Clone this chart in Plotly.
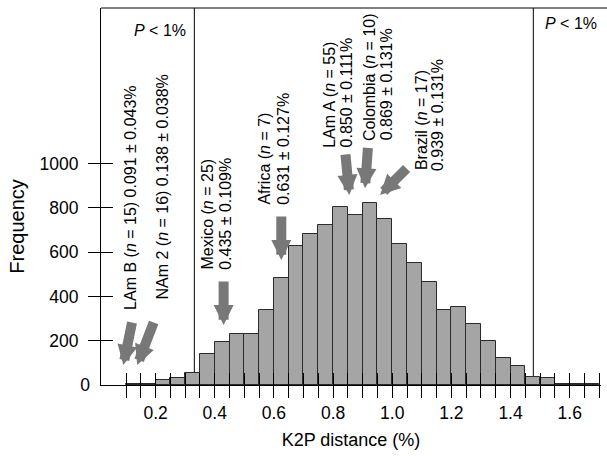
import plotly.graph_objects as go

# ---- data ----
bin_left = [0.10, 0.15, 0.20, 0.25, 0.30, 0.35, 0.40, 0.45, 0.50, 0.55,
            0.60, 0.65, 0.70, 0.75, 0.80, 0.85, 0.90, 0.95, 1.00, 1.05,
            1.10, 1.15, 1.20, 1.25, 1.30, 1.35, 1.40, 1.45, 1.50, 1.55,
            1.60, 1.65]
counts = [6, 6, 22, 31, 52, 139, 193, 230, 230, 337,
          484, 628, 680, 721, 804, 766, 820, 751, 637, 552,
          466, 337, 353, 277, 200, 123, 84, 38, 30, 6,
          6, 6]
bin_width = 0.05

group_names = ["LAm B", "NAm 2", "Mexico", "Africa", "LAm A", "Colombia", "Brazil"]
group_n = [15, 16, 25, 7, 55, 10, 17]
group_mean = [0.091, 0.138, 0.435, 0.631, 0.850, 0.869, 0.939]
group_sd = [0.043, 0.038, 0.109, 0.127, 0.111, 0.131, 0.131]
arrow_tip_x = [0.091, 0.138, 0.430, 0.625, 0.855, 0.908, 0.959]
arrow_tip_y = [90, 90, 271, 564, 858, 888, 858]

p_thresholds = [0.331, 1.477]
p_label = "<i>P</i> &lt; 1%"

x_tick_vals = [0.10, 0.15, 0.20, 0.25, 0.30, 0.35, 0.40, 0.45, 0.50, 0.55,
               0.60, 0.65, 0.70, 0.75, 0.80, 0.85, 0.90, 0.95, 1.00, 1.05,
               1.10, 1.15, 1.20, 1.25, 1.30, 1.35, 1.40, 1.45, 1.50, 1.55,
               1.60, 1.65, 1.70]
x_tick_text = ["", "", "0.2", "", "", "", "0.4", "", "", "", "0.6", "", "", "", "0.8",
               "", "", "", "1.0", "", "", "", "1.2", "", "", "", "1.4", "", "", "", "1.6", "", ""]
y_tick_vals = [200, 400, 600, 800, 1000]
x_title = "K2P distance (%)"
y_title = "Frequency"

# ---- styling ----
FONT = "Liberation Sans, Arial, Helvetica, sans-serif"
BAR_FILL = "#a5a5a5"
BAR_EDGE = "#2a2a2a"
ARROW = "#787878"
XR = [0.0155, 1.7058]
YR = [0, 1702]
ANN_SIZE = 16

fig = go.Figure()
fig.add_trace(go.Bar(
    x=[b + bin_width / 2 for b in bin_left], y=counts, width=bin_width,
    marker=dict(color=BAR_FILL, line=dict(color=BAR_EDGE, width=1)),
    xaxis="x", yaxis="y", showlegend=False, hoverinfo="skip"))
# empty trace to activate overlay axes
fig.add_trace(go.Scatter(x=[], y=[], xaxis="x2", yaxis="y2", showlegend=False))

fig.update_layout(
    width=607, height=456,
    margin=dict(l=101, r=6, t=8, b=71),
    paper_bgcolor="white", plot_bgcolor="white",
    font=dict(family=FONT, color="black"),
    bargap=0,
    xaxis=dict(range=XR, tickvals=x_tick_vals, ticktext=x_tick_text, automargin=False,
               ticks="outside", ticklen=12, tickwidth=1, tickcolor="black",
               showline=True, linecolor="black", linewidth=1,
               showgrid=False, zeroline=False,
               tickfont=dict(size=17.5, family=FONT),
               title=dict(text=x_title, font=dict(size=18, family=FONT), standoff=11)),
    xaxis2=dict(range=XR, overlaying="x", anchor="y", side="bottom", automargin=False,
                tickvals=x_tick_vals, ticks="inside", ticklen=12, tickwidth=1,
                tickcolor="black", showticklabels=False, showline=False,
                showgrid=False, zeroline=False),
    yaxis=dict(range=YR, tickvals=y_tick_vals, automargin=False,
               ticks="outside", ticklen=12, tickwidth=1, tickcolor="black",
               showline=True, linecolor="black", linewidth=1,
               showgrid=False, zeroline=False,
               tickfont=dict(size=17.5, family=FONT), ticklabelstandoff=6),
    yaxis2=dict(range=YR, overlaying="y", anchor="x", side="left", automargin=False,
                tickvals=[0] + y_tick_vals, ticktext=["0", "", "", "", "", ""],
                ticks="inside", ticklen=12, tickwidth=1, tickcolor="black",
                tickfont=dict(size=17.5, family=FONT), ticklabelstandoff=10,
                showline=False, showgrid=False, zeroline=False),
)

# y-axis title as annotation (placed lower than the plot centre, as in the original)
fig.add_annotation(x=-0.168, xref="paper", y=0.42, yref="paper", xanchor="center",
                   yanchor="middle", text=y_title, textangle=-90, showarrow=False,
                   font=dict(size=20, family=FONT))

# threshold lines
for xv in p_thresholds:
    fig.add_shape(type="line", xref="x", yref="paper", x0=xv, x1=xv, y0=0, y1=1,
                  line=dict(color="black", width=1), layer="below")
# top frame line
fig.add_shape(type="line", xref="paper", yref="paper", x0=0, x1=1.02, y0=1, y1=1,
              line=dict(color="black", width=1))

# P < 1% labels
fig.add_annotation(x=p_thresholds[0], xref="x", xanchor="right", xshift=-6,
                   y=0.94, yref="paper", yanchor="middle", text=p_label,
                   showarrow=False, font=dict(size=ANN_SIZE, family=FONT))
fig.add_annotation(x=p_thresholds[1], xref="x", xanchor="left", xshift=10,
                   y=0.96, yref="paper", yanchor="middle", text=p_label,
                   showarrow=False, font=dict(size=ANN_SIZE, family=FONT))

# group labels: (x of first line centre, x of second line centre, bottom) -- position styling
label_pos = [(0.117, None, 330), (0.222, None, 375), (0.374, 0.434, 510),
             (0.567, 0.632, 806), (0.790, 0.846, 1062), (0.923, 0.981, 1094),
             (1.099, 1.153, 959)]
single_line = {"LAm B", "NAm 2"}
for name, n, m, sd, (x1, x2, ly) in zip(group_names, group_n, group_mean, group_sd, label_pos):
    head = f"{name} (<i>n</i> = {n})"
    val = f"{m:.3f} ± {sd:.3f}%"
    if name in single_line:
        lines = [(x1, f"{head} {val}")]
    else:
        lines = [(x1, head), (x2, val)]
    for lx, txt in lines:
        fig.add_annotation(x=lx, y=ly, xref="x", yref="y", xanchor="center", yanchor="bottom",
                           text=txt, textangle=-90, showarrow=False,
                           font=dict(size=ANN_SIZE, family=FONT))

# arrows (tail offsets in pixels)
arrow_offsets = [(9, -44), (17, -44), (0, -45), (0, -45), (-4, -42), (3, -42), (28, -28)]
for tx, ty, (ax, ay) in zip(arrow_tip_x, arrow_tip_y, arrow_offsets):
    fig.add_annotation(x=tx, y=ty, xref="x", yref="y", text="", showarrow=True,
                       ax=ax, ay=ay, arrowhead=2, arrowsize=0.4, arrowwidth=10,
                       arrowcolor=ARROW, standoff=0)

fig.write_html("out.html", config={"displayModeBar": False},
               post_script="document.body.style.margin='0';")
